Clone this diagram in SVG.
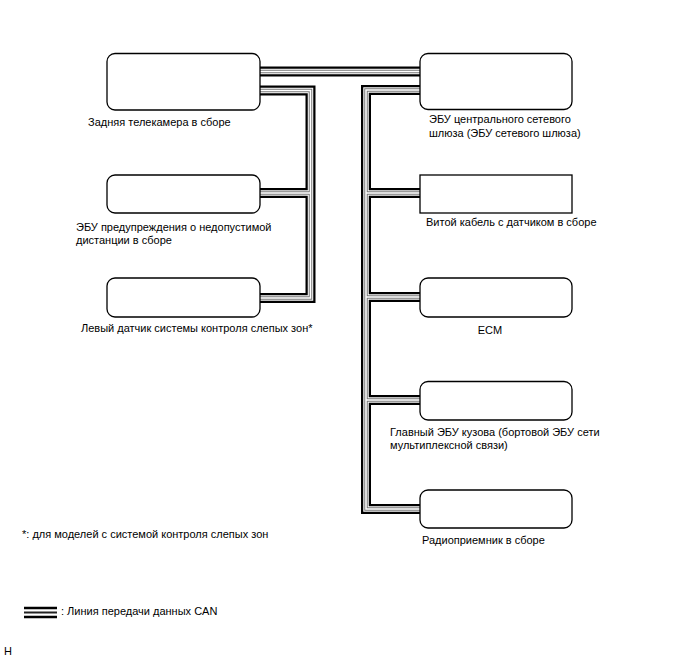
<svg xmlns="http://www.w3.org/2000/svg" width="688" height="658" viewBox="0 0 688 658">
<style>
.box{fill:#fff;stroke:#000;stroke-width:1.3}
.t{font-family:"Liberation Sans",Arial,sans-serif;font-size:11px;fill:#000}
.l1{fill:none;stroke:#000;stroke-width:10;stroke-linejoin:miter}
.l2{fill:none;stroke:#fff;stroke-width:5.5}
.l3{fill:none;stroke:#777;stroke-width:3.5}
.l4{fill:none;stroke:#fff;stroke-width:1.5}
</style>
<defs>
<path id="c1" d="M260,71.5 H420"/>
<path id="c2" d="M260,90.5 H310.5 V298 H260"/>
<path id="c3" d="M310.5,193 H260"/>
<path id="c4" d="M420,90 H366 V509 H420"/>
<path id="c5" d="M366,193 H420"/>
<path id="c6" d="M366,297 H420"/>
<path id="c7" d="M366,400 H420"/>
</defs>
<rect width="688" height="658" fill="#fff"/>
<g id="connectors">
<g class="l1"><use href="#c1"/><use href="#c2"/><use href="#c3"/><use href="#c4"/><use href="#c5"/><use href="#c6"/><use href="#c7"/></g>
<g class="l2"><use href="#c1"/><use href="#c2"/><use href="#c3"/><use href="#c4"/><use href="#c5"/><use href="#c6"/><use href="#c7"/></g>
<g class="l3"><use href="#c1"/><use href="#c2"/><use href="#c3"/><use href="#c4"/><use href="#c5"/><use href="#c6"/><use href="#c7"/></g>
<g class="l4"><use href="#c1"/><use href="#c2"/><use href="#c3"/><use href="#c4"/><use href="#c5"/><use href="#c6"/><use href="#c7"/></g>
</g>
<g id="rear-camera">
<rect class="box" x="107" y="53.5" width="153" height="56.5" rx="8"/>
<text class="t" x="88" y="126">Задняя телекамера в сборе</text>
</g>
<g id="distance-ecu">
<rect class="box" x="107" y="175" width="153" height="38" rx="8"/>
<text class="t" x="76" y="231">ЭБУ предупреждения о недопустимой</text>
<text class="t" x="76" y="244">дистанции в сборе</text>
</g>
<g id="left-bsm">
<rect class="box" x="107" y="278" width="153" height="39" rx="8"/>
<text class="t" x="81" y="332">Левый датчик системы контроля слепых зон*</text>
</g>
<g id="gateway">
<rect class="box" x="420" y="53.5" width="152" height="56" rx="8"/>
<text class="t" x="429" y="123">ЭБУ центрального сетевого</text>
<text class="t" x="429" y="137">шлюза (ЭБУ сетевого шлюза)</text>
</g>
<g id="spiral-cable">
<rect class="box" x="420" y="175" width="152" height="38"/>
<text class="t" x="426" y="226">Витой кабель с датчиком в сборе</text>
</g>
<g id="ecm">
<rect class="box" x="420" y="278" width="152" height="39" rx="8"/>
<text class="t" x="490" y="334" text-anchor="middle">ECM</text>
</g>
<g id="main-body">
<rect class="box" x="420" y="381.5" width="152" height="38.5" rx="8"/>
<text class="t" x="390" y="436">Главный ЭБУ кузова (бортовой ЭБУ сети</text>
<text class="t" x="390" y="449">мультиплексной связи)</text>
</g>
<g id="radio">
<rect class="box" x="420" y="490" width="152" height="38" rx="8"/>
<text class="t" x="422" y="544">Радиоприемник в сборе</text>
</g>
<g id="notes">
<text class="t" x="22" y="538">*: для моделей с системой контроля слепых зон</text>
<line x1="24" y1="608" x2="57" y2="608" stroke="#000" stroke-width="2.5"/>
<line x1="24" y1="612.5" x2="57" y2="612.5" stroke="#222" stroke-width="2"/>
<line x1="24" y1="617" x2="57" y2="617" stroke="#000" stroke-width="2.5"/>
<text class="t" x="61" y="615">: Линия передачи данных CAN</text>
<text class="t" x="4" y="655" font-size="10">H</text>
</g>
</svg>
